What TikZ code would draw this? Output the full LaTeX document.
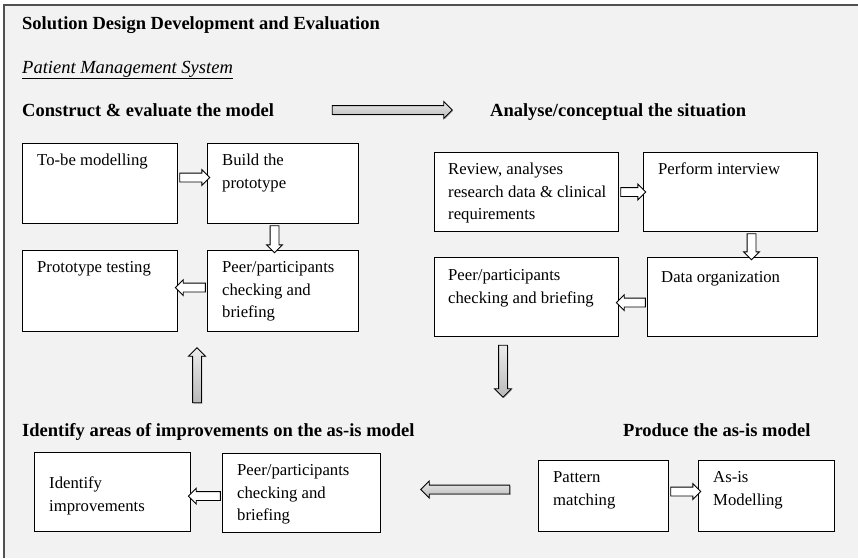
\documentclass[tikz,border=0pt]{standalone}
\usepackage{fontspec}
\setmainfont{Liberation Serif}
\usetikzlibrary{shapes.arrows,shadows,calc}
\newcommand\bxfont{\fontsize{16.7}{22.3}\selectfont}
\newcommand\hdfont{\fontsize{18.5}{22}\selectfont\bfseries}
\newcommand\itfont{\fontsize{18.5}{22}\selectfont\itshape}
\definecolor{bgc}{HTML}{F2F2F2}
\definecolor{framec}{HTML}{505050}
\begin{document}
\begin{tikzpicture}[x=1pt,y=-1pt,
  box/.style={draw=black, line width=1.1pt, fill=white, rectangle, anchor=north west, inner sep=0pt},
  txt/.style={anchor=north west, inner sep=0pt, align=left, font=\bxfont},
  head/.style={anchor=base west, inner sep=0pt, font=\hdfont},
  sarrow/.style={single arrow, draw=black, fill=white, line width=0.9pt, minimum width=0pt,
    inner xsep=0pt, inner ysep=4pt,
    single arrow head extend=3.5pt, single arrow tip angle=90},
  barrow/.style={single arrow, draw=black, line width=0.9pt, top color=gray!15, bottom color=gray!55,
    minimum width=0pt, inner xsep=0pt, inner ysep=4pt, single arrow head extend=4pt, single arrow tip angle=90,
    drop shadow={shadow xshift=1pt, shadow yshift=-1pt, opacity=0.5}}]
\useasboundingbox (0,0) rectangle (858,558);
\fill[white] (0,0) rectangle (858,558);
\fill[bgc] (4,5) rectangle (858,558);
\draw[line width=1.5pt, draw=framec] (4,558) -- (4,5) -- (858,5);

% headings
\node[head] (title) at (22,29) {Solution Design Development and Evaluation};
\node[anchor=base west, inner sep=0pt, font=\itfont] (pms) at (22,73) {\underline{Patient Management System}};
\node[head] (hc) at (22,116) {Construct \& evaluate the model};
\node[head] (ha) at (490,116) {Analyse/conceptual the situation};
\node[head] (hi) at (22,436) {Identify areas of improvements on the as-is model};
\node[head] (hp) at (623,436) {Produce the as-is model};

% boxes
\node[box, minimum width=155pt, minimum height=80pt] (tobe) at (22,143) {};
\node[box, minimum width=151pt, minimum height=80pt] (build) at (207,143) {};
\node[box, minimum width=155pt, minimum height=81pt] (ptest) at (22,250) {};
\node[box, minimum width=151pt, minimum height=81pt] (peerL) at (207,250) {};
\node[box, minimum width=184pt, minimum height=79pt] (review) at (434,152) {};
\node[box, minimum width=174pt, minimum height=79pt] (perform) at (643,152) {};
\node[box, minimum width=184pt, minimum height=79pt] (peerR) at (434,257) {};
\node[box, minimum width=170pt, minimum height=79pt] (dataorg) at (647,257) {};
\node[box, minimum width=156pt, minimum height=79pt] (identify) at (34,452) {};
\node[box, minimum width=158pt, minimum height=79pt] (peerB) at (222,453) {};
\node[box, minimum width=130pt, minimum height=71pt] (pattern) at (538,460) {};
\node[box, minimum width=136pt, minimum height=71pt] (asis) at (698,460) {};

% box texts
\node[txt] (ttobe) at (37,150) {\strut To-be modelling};
\node[txt] (tbuild) at (222,150) {\strut Build the\\prototype};
\node[txt] (tptest) at (37,257) {\strut Prototype testing};
\node[txt] (tpeerL) at (222,257) {\strut Peer/participants\\checking and\\briefing};
\node[txt] (treview) at (448,159) {\strut Review, analyses\\research data \& clinical\\requirements};
\node[txt] (tperform) at (658,159) {\strut Perform interview};
\node[txt] (tpeerR) at (448,265) {\strut Peer/participants\\checking and briefing};
\node[txt] (tdata) at (661,267) {\strut Data organization};
\node[txt] (tident) at (49,473) {\strut Identify\\improvements};
\node[txt] (tpeerB) at (237,460) {\strut Peer/participants\\checking and\\briefing};
\node[txt] (tpattern) at (553,467) {\strut Pattern\\matching};
\node[txt] (tasis) at (713,467) {\strut As-is\\Modelling};

% small arrows
\node[sarrow, minimum height=30pt] (a1) at ($(tobe.east)!.5!(build.west)+(0,-6)$) {};
\node[sarrow, minimum height=27pt, rotate=-90] (a2) at ($(build.south)!.5!(peerL.north)+(-8.5,0)$) {};
\node[sarrow, minimum height=30pt, rotate=180] (a3) at ($(peerL.west)!.5!(ptest.east)+(0,-3.5)$) {};
\node[sarrow, minimum height=25pt] (a4) at ($(review.east)!.5!(perform.west)$) {};
\node[sarrow, minimum height=26pt, rotate=-90] (a5) at ($(perform.south)!.5!(dataorg.north)+(20,0)$) {};
\node[sarrow, minimum height=29pt, rotate=180] (a6) at ($(dataorg.west)!.5!(peerR.east)+(0,5.5)$) {};
\node[sarrow, minimum height=32pt, rotate=180] (a7) at ($(peerB.west)!.5!(identify.east)+(0,3.5)$) {};
\node[sarrow, minimum height=30pt] (a8) at ($(pattern.east)!.5!(asis.west)+(0,-4.5)$) {};

% big arrows
\node[barrow, minimum height=120pt] (b1) at (390,110) {};
\node[barrow, minimum height=52pt, rotate=-90] (b2) at (503,369) {};
\node[barrow, minimum height=89pt, rotate=180] (b3) at (467.5,489.5) {};
\node[barrow, minimum height=55pt, rotate=90] (b4) at (197,377.5) {};
\end{tikzpicture}
\end{document}
